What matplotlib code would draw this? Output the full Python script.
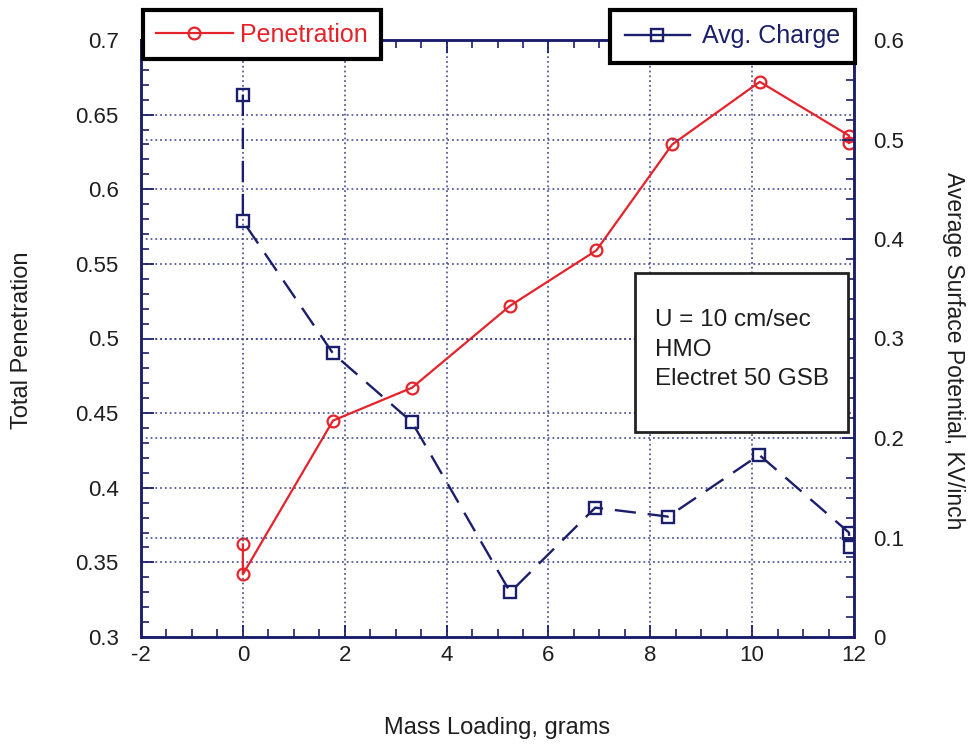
import matplotlib
matplotlib.use("Agg")
import matplotlib.pyplot as plt
from matplotlib.ticker import MultipleLocator, FormatStrFormatter
from matplotlib.patches import Rectangle
from matplotlib.lines import Line2D

plt.rcParams['font.family'] = ['Liberation Sans', 'DejaVu Sans']
plt.rcParams['axes.unicode_minus'] = False

# data
pen_x = [0, 0, 1.77, 3.32, 5.25, 6.94, 8.43, 10.15, 11.9, 11.9]
pen_y = [0.362, 0.342, 0.445, 0.467, 0.522, 0.559, 0.630, 0.672, 0.636, 0.631]

chg_x = [0, 0, 1.77, 3.32, 5.25, 6.92, 8.35, 10.14, 11.9, 11.92]
chg_y = [0.545, 0.418, 0.285, 0.216, 0.045, 0.130, 0.121, 0.183, 0.105, 0.090]

left_ticks = [0.3, 0.35, 0.4, 0.45, 0.5, 0.55, 0.6, 0.65, 0.7]
right_ticks = [0, 0.1, 0.2, 0.3, 0.4, 0.5, 0.6]
x_ticks = [-2, 0, 2, 4, 6, 8, 10, 12]

note = "U = 10 cm/sec\nHMO\nElectret 50 GSB"

red = '#e5232b'
navy = '#1b1f6b'
gridc = '#3a3f8a'
txt = '#1e1e1e'

fig = plt.figure(figsize=(9.71, 7.47), dpi=100)
ax1 = fig.add_axes([141/971, 1-637/747, 713/971, 597/747])
ax2 = ax1.twinx()

l1, = ax1.plot(pen_x, pen_y, color=red, lw=1.6, marker='o', ms=8.5,
               mfc='none', mec=red, mew=1.6, label='Penetration', zorder=5)
ax2.plot(chg_x, chg_y, color=navy, lw=1.7, dashes=(9, 5), marker='s', ms=9,
         mfc='none', mec=navy, mew=1.7, zorder=5)
# legend sample for the charge series is drawn solid in the original
l2 = Line2D([], [], color=navy, lw=1.7, marker='s', ms=9, mfc='none',
            mec=navy, mew=1.7, label='Avg. Charge')

ax1.set_xlim(-2, 12)
ax1.set_ylim(0.3, 0.7)
ax2.set_ylim(0, 0.6)

ax1.set_xticks(x_ticks)
ax1.set_yticks(left_ticks)
ax2.set_yticks(right_ticks)
ax1.xaxis.set_minor_locator(MultipleLocator(0.5))
ax1.yaxis.set_minor_locator(MultipleLocator(0.01))
ax2.yaxis.set_minor_locator(MultipleLocator(0.02))
ax1.yaxis.set_major_formatter(FormatStrFormatter('%g'))
ax2.yaxis.set_major_formatter(FormatStrFormatter('%g'))

ax1.grid(True, which='major', color=gridc, ls=':', lw=1.3, alpha=0.85)
ax2.grid(True, which='major', axis='y', color=gridc, ls=':', lw=1.3, alpha=0.85)

ax1.tick_params(axis='x', which='both', direction='in', top=True, colors=navy,
                labelcolor=txt, labelsize=16, pad=6)
ax1.tick_params(axis='x', which='major', length=9, width=1.3)
ax1.tick_params(axis='x', which='minor', length=6, width=1.2)
ax1.tick_params(axis='y', which='both', direction='in', colors=navy,
                labelcolor=txt, labelsize=16, pad=16)
ax1.tick_params(axis='y', which='major', length=9, width=1.3)
ax1.tick_params(axis='y', which='minor', length=6, width=1.2)
ax2.tick_params(axis='y', which='both', direction='in', colors=navy,
                labelcolor=txt, labelsize=16, pad=14)
ax2.tick_params(axis='y', which='major', length=9, width=1.3)
ax2.tick_params(axis='y', which='minor', length=6, width=1.2)

for ax in (ax1, ax2):
    for sp in ax.spines.values():
        sp.set_color(navy)
        sp.set_linewidth(1.8)

ax1.set_xlabel('Mass Loading, grams', fontsize=17, color=txt)
ax1.xaxis.set_label_coords(0.5, -0.134)
ax1.set_ylabel('Total Penetration', fontsize=17, color=txt)
ax1.yaxis.set_label_coords(-0.151, 0.497)
ax2.set_ylabel('Average Surface Potential, KV/inch', fontsize=16.5, color=txt,
               rotation=270, va='bottom')
ax2.yaxis.set_label_coords(1.124, 0.48)

leg1 = ax2.legend(handles=[l1], loc='upper left', bbox_to_anchor=(143/971, 1-10/747),
                  bbox_transform=fig.transFigure, borderaxespad=0, fancybox=False,
                  framealpha=1, edgecolor='black', fontsize=18, handlelength=3.1,
                  handletextpad=0.3, borderpad=0.5, labelcolor=red)
leg1.get_frame().set_linewidth(3)
ax2.add_artist(leg1)
leg2 = ax2.legend(handles=[l2], loc='upper right', bbox_to_anchor=(855/971, 1-10/747),
                  bbox_transform=fig.transFigure, borderaxespad=0, fancybox=False,
                  framealpha=1, edgecolor='black', fontsize=18, handlelength=2.6,
                  handletextpad=0.5, borderpad=0.58, labelcolor=navy)
leg2.get_frame().set_linewidth(3)
leg1.set_zorder(20)
leg2.set_zorder(20)

box = Rectangle((635/971, 1-432/747), 213/971, 159/747, transform=fig.transFigure,
                facecolor='white', edgecolor='#222222', lw=2, zorder=10)
ax2.add_artist(box)
box.set_clip_on(False)
ax2.text(655/971, 1-309/747, note, transform=fig.transFigure, fontsize=17.5,
         color=txt, ha='left', va='top', linespacing=1.45, zorder=11)

fig.savefig('out.png', dpi=100)
